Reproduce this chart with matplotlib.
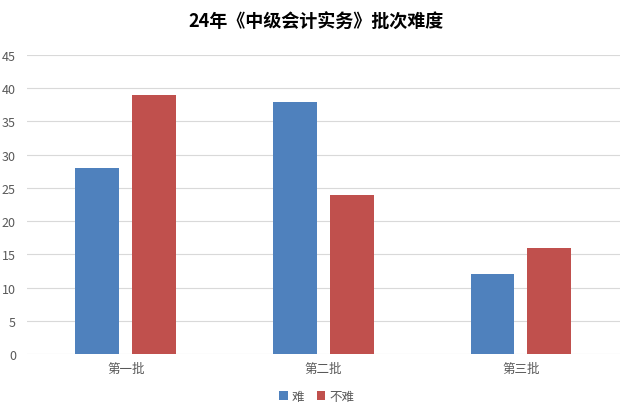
import matplotlib.pyplot as plt
import numpy as np

plt.rcParams['font.family'] = ['Noto Sans CJK SC', 'DejaVu Sans']

categories = ['第一批', '第二批', '第三批']
hard = [28, 38, 12]
not_hard = [39, 24, 16]
series_names = ['难', '不难']
title = '24年《中级会计实务》批次难度'

fig = plt.figure(figsize=(6.33, 4.14), dpi=100)
ax = fig.add_axes([0.0427, 0.1425, 0.9363, 0.7222])

x = np.arange(len(categories))
w = 0.222
off = 0.144
ax.bar(x - off, hard, w, color='#4F81BD', label=series_names[0], zorder=3)
ax.bar(x + off, not_hard, w, color='#C0504D', label=series_names[1], zorder=3)

ax.set_xlim(-0.5, 2.5)
ax.set_ylim(0, 45)
ax.set_yticks(range(0, 46, 5))
ax.set_xticks(x)
ax.set_xticklabels(categories)
ax.grid(axis='y', color='#D9D9D9', linewidth=0.8, zorder=0)
for s in ax.spines.values():
    s.set_visible(False)
ax.tick_params(length=0, labelsize=9, colors='#595959', pad=6)
ax.tick_params(axis='y', pad=8)

fig.text(0.5, 0.947, title, ha='center', va='center', fontsize=13,
         fontweight='bold', color='#000000')

fig.legend(loc='center', bbox_to_anchor=(0.5, 0.04), ncol=2, frameon=False,
           fontsize=9, handlelength=0.7, handleheight=0.7, handletextpad=0.3,
           columnspacing=1.0, labelcolor='#595959')

fig.savefig('out.png', dpi=100)
